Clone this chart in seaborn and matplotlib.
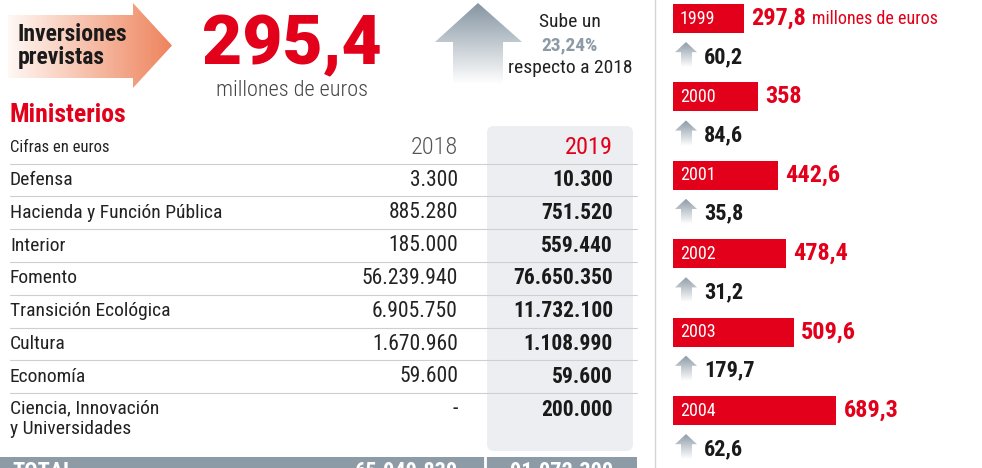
import matplotlib
matplotlib.use('Agg')
import matplotlib.pyplot as plt
from matplotlib import font_manager
from matplotlib.patches import Polygon, FancyBboxPatch, Rectangle
from matplotlib.colors import LinearSegmentedColormap
import numpy as np
import pandas as pd
import seaborn as sns

# datos de la tabla
ministerios = ['Defensa', 'Hacienda y Función Pública', 'Interior', 'Fomento',
               'Transición Ecológica', 'Cultura', 'Economía',
               'Ciencia, Innovación\ny Universidades']
cifras_2018 = [3300, 885280, 185000, 56239940, 6905750, 1670960, 59600, None]
cifras_2019 = [10300, 751520, 559440, 76650350, 11732100, 1108990, 59600, 200000]

# serie historica
anios = ['1999', '2000', '2001', '2002', '2003', '2004']
inversion = [297.8, 358, 442.6, 478.4, 509.6, 689.3]
subida = [60.2, 84.6, 35.8, 31.2, 179.7, 62.6]

total_prevista = 295.4
subida_pct = 23.24

RED = '#e2001a'
GREY = '#8d9ba6'

sns.set_theme(style='white')
names = {f.name for f in font_manager.fontManager.ttflist}
cond = next((n for n in ['Roboto Condensed', 'Liberation Sans Narrow', 'Open Sans Condensed']
             if n in names), None)
if cond:
    plt.rcParams['font.family'] = [cond, 'DejaVu Sans']
    STRETCH = 'normal'
else:
    plt.rcParams['font.family'] = ['DejaVu Sans']
    STRETCH = 'condensed'
BIG = ['Roboto', 'DejaVu Sans'] if 'Roboto' in names else ['DejaVu Sans']


def es(v):
    return f'{v:,}'.replace(',', '.')


def dec(v):
    return f'{v:g}'.replace('.', ',')


def grad_poly(ax, pts, c0, c1, vertical=False):
    # poligono relleno con degradado (horizontal o de arriba a abajo)
    pts = np.array(pts, dtype=float)
    poly = Polygon(pts, closed=True, facecolor='none', edgecolor='none')
    ax.add_patch(poly)
    cmap = LinearSegmentedColormap.from_list('g', [c0, c1])
    g = np.linspace(0, 1, 256)
    img = g[:, None] if vertical else g[None, :]
    x0, x1 = pts[:, 0].min(), pts[:, 0].max()
    y0, y1 = pts[:, 1].min(), pts[:, 1].max()
    im = ax.imshow(img, cmap=cmap, extent=[x0, x1, y1, y0], aspect='auto',
                   origin='upper', zorder=1)
    im.set_clip_path(poly)


fig = plt.figure(figsize=(9.82, 4.68), dpi=100)
bg = fig.add_axes([0, 0, 1, 1])
bg.set_xlim(0, 982)
bg.set_ylim(468, 0)
bg.axis('off')

T = dict(fontstretch=STRETCH)

# cabecera
grad_poly(bg, [(8, 15), (133, 15), (133, 3), (172, 45.5), (133, 88), (133, 78), (8, 78)],
          '#fff8f4', '#ee845d')
bg.text(18, 46, 'Inversiones\nprevistas', fontsize=17, fontweight='bold', color='#1a1a1a',
        va='center', ha='left', linespacing=1.05, zorder=3, **T)
bg.text(292, 46, dec(total_prevista), fontsize=50, fontweight='black', color=RED,
        ha='center', va='center', zorder=3, family=BIG)
bg.text(292, 90, 'millones de euros', fontsize=16, color='#444444', ha='center',
        va='center', fontweight='light', **T)

grad_poly(bg, [(453, 84), (453, 42), (435, 42), (478, 3), (522, 42), (503, 42), (503, 84)],
          '#8595a2', '#ffffff', vertical=True)
bg.text(570, 22, 'Sube un', fontsize=14, color='#222222', ha='center', va='center', **T)
bg.text(570, 45, dec(subida_pct) + '%', fontsize=14, fontweight='bold', color='#8c9ba6',
        ha='center', va='center', **T)
bg.text(570, 68, 'respecto a 2018', fontsize=14, color='#222222', ha='center',
        va='center', **T)

bg.plot([655, 655], [0, 468], color='#d4d4d4', lw=1)

# tabla
bg.text(10, 115, 'Ministerios', fontsize=18.5, fontweight='bold', color=RED, va='center', **T)
bg.add_patch(FancyBboxPatch((487, 126), 146, 325, boxstyle='round,pad=0,rounding_size=7',
                            facecolor='#eceef1', edgecolor='none', zorder=0))
bg.text(10, 147, 'Cifras en euros', fontsize=12, color='#222222', va='center', **T)
bg.text(458, 148, '2018', fontsize=17.5, color='#555555', ha='right', va='center',
        fontweight='light', **T)
bg.text(613, 148, '2019', fontsize=17.5, color=RED, ha='right', va='center', **T)

step = 32.8
for i, (m, a, b) in enumerate(zip(ministerios, cifras_2018, cifras_2019)):
    y = 180 + i * step
    bg.plot([10, 637], [y - 16.5, y - 16.5], color='#cfcfcf', lw=0.8, zorder=2)
    if '\n' in m:
        bg.text(10, y - 10, m, fontsize=14, color='#222222', va='top', linespacing=1.2, **T)
    else:
        bg.text(10, y, m, fontsize=14, color='#222222', va='center', **T)
    bg.text(458, y, es(a) if a else '-', fontsize=15.5, color='#222222', ha='right',
            va='center', **T)
    bg.text(613, y, es(b), fontsize=15.5, fontweight='bold', color='#1a1a1a', ha='right',
            va='center', **T)

tot18 = sum(v for v in cifras_2018 if v)
tot19 = sum(cifras_2019)
bg.add_patch(Rectangle((0, 457), 637, 14, facecolor=GREY, edgecolor='none', zorder=2))
bg.plot([485, 485], [457, 468], color='white', lw=2, zorder=3)
for x, s, ha in [(12, 'TOTAL', 'left'), (458, es(tot18), 'right'), (613, es(tot19), 'right')]:
    bg.text(x, 461, s, fontsize=16, fontweight='bold', color='white', ha=ha, va='top',
            zorder=4, **T)

# barras historicas
ax = fig.add_axes([673 / 982, 0, 309 / 982, 1])
ax.patch.set_alpha(0)
df = pd.DataFrame({'anio': anios, 'valor': inversion})
sns.barplot(data=df, x='valor', y='anio', orient='h', color=RED, saturation=1,
            width=0.37, linewidth=0, ax=ax)
ax.set_xlim(0, 309 / 0.237)
ax.set_ylim(5.733, -0.236)
ax.axis('off')

to_px = lambda c: bg.transData.inverted().transform(ax.transData.transform((0, c)))[1]

for i, (a, v, s) in enumerate(zip(anios, inversion, subida)):
    ax.text(28, i, a, fontsize=13, color='white', va='center', ha='left', **T)
    ax.text(v + 30, i, dec(v), fontsize=17.5, fontweight='bold', color=RED,
            va='center', ha='left', **T)
    yt, yb = to_px(i + 0.30), to_px(i + 0.62)
    yh = to_px(i + 0.43)
    grad_poly(bg, [(681, yb), (681, yh), (675, yh), (686, yt), (697, yh), (692, yh), (692, yb)],
              '#8a98a4', '#ffffff', vertical=True)
    bg.text(704, to_px(i + 0.49), dec(s), fontsize=16, fontweight='bold', color='#1a1a1a',
            va='center', ha='left', **T)
    if i == 0:
        bg.text(812, to_px(i), 'millones de euros', fontsize=13, color=RED,
                va='center', ha='left', **T)

fig.savefig('out.png', dpi=100)
